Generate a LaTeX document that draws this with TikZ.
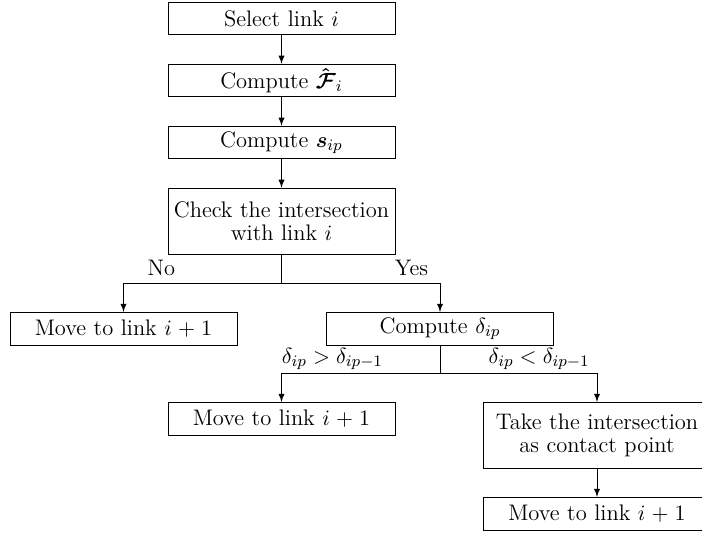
\documentclass[tikz,border=0pt]{standalone}
\usepackage{amsmath,amssymb,bm}
\usetikzlibrary{arrows.meta,positioning}

\begin{document}
\begin{tikzpicture}[
    x=0.5pt,y=0.5pt,
    node distance=14.2pt,
    font=\fontsize{11.25pt}{11.25pt}\selectfont,
    box/.style={draw,rectangle,minimum width=113.5pt,minimum height=16.4pt,text width=112.5pt,align=center,inner xsep=0.5pt,inner ysep=0pt},
    tall/.style={minimum height=33.1pt},
    arr/.style={->,>=latex},
    lbl/.style={inner ysep=1.5pt}
]
\useasboundingbox (0,0) rectangle (702,-535);

\node[box] (select) at (281.5,-18.5) {Select link $i$};
\node[box,below=of select] (cfhat) {Compute $\bm{\hat{\mathcal{F}}}_i$};
\node[box,below=of cfhat] (csip) {Compute $\bm{s}_{ip}$};
\node[box,tall,below=of csip] (check) {Check the intersection\\with link $i$};

\node[box,below=28.6pt of check,xshift=-79pt] (nomove) {Move to link $i+1$};
\node[box,below=28.6pt of check,xshift=79.25pt] (cdelta) {Compute $\delta_{ip}$};

\node[box,below=28.2pt of cdelta,xshift=-79.25pt] (move2) {Move to link $i+1$};
\node[box,tall,below=28.2pt of cdelta,xshift=78.5pt] (take) {Take the intersection\\as contact point};
\node[box,below=14pt of take] (move3) {Move to link $i+1$};

\draw[arr] (select) -- (cfhat);
\draw[arr] (cfhat) -- (csip);
\draw[arr] (csip) -- (check);

% first branch
\draw (check.south) -- ++(0,-14.1pt) coordinate (split1);
\draw[arr] (split1) -| node[pos=0.38,above] {No} (nomove);
\draw[arr] (split1) -| node[pos=0.41,above] {Yes} (cdelta);

% second branch
\draw (cdelta.south) -- ++(0,-13.7pt) coordinate (split2);
\draw[arr] (split2) -| node[pos=0.5,above right,lbl,inner xsep=0pt] {$\delta_{ip}>\delta_{ip-1}$} (move2);
\draw[arr] (split2) -| node[pos=0.5,above left,lbl,inner xsep=3.5pt] {$\delta_{ip}<\delta_{ip-1}$} (take);
\draw[arr] (take) -- (move3);
\end{tikzpicture}
\end{document}
